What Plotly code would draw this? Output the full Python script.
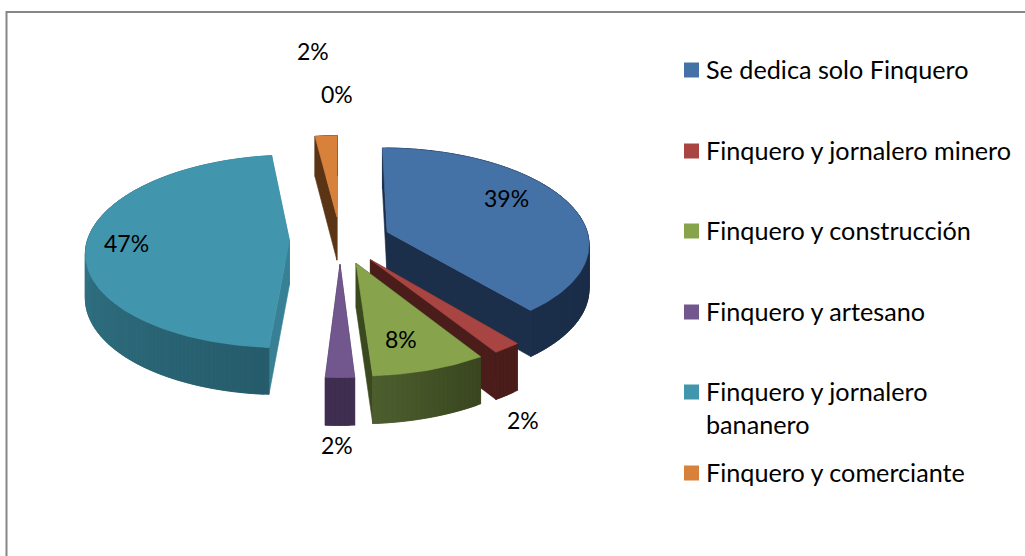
import math
import plotly.graph_objects as go

# --- data ---
categories = ["Se dedica solo Finquero", "Finquero y jornalero minero", "Finquero y construcción",
              "Finquero y artesano", "Finquero y jornalero<br>bananero", "Finquero y comerciante", ""]
values = [39, 2, 8, 2, 47, 2, 0]
top_colors = ["#4471A6", "#A84542", "#87A44C", "#71578D", "#4195AD", "#D7813B", "#4471A6"]
radial_colors = ["#1B2E4A", "#4A1C1A", "#3A4A1E", "#3F2E50", "#378096", "#5A3414", "#1B2E4A"]
wall_start = ["#1B2E4A", "#4A1C1A", "#3A461F", "#3F2E50", "#265C6B", "#5A3414", "#1B2E4A"]
wall_end = ["#1B2E4A", "#4A1C1A", "#4C5E2E", "#3F2E50", "#3C8A9F", "#5A3414", "#1B2E4A"]
label_xy = [(506, 198), (523, 420), (401, 339), (337, 445), (126, 243), (313, 51), (337, 94)]
legend_y = [70, 151, 231, 312, 392, 473]

# --- pie geometry (values -> projected 3D pie) ---
CX, CY, RX, RY, K, EXPLODE = 340, 240, 202, 95, 0.11, 0.25
FONT = "Lato"
total = sum(values)


def project(px, py, down=False):
    d = 1 + K * py
    x = CX + RX * px / d
    y = CY - RY * py / d
    if down:
        y += 44 - 3 * py
    return x, y


def rgb(c):
    return [int(c[i:i + 2], 16) for i in (1, 3, 5)]


def mix(a, b, t):
    ca, cb = rgb(a), rgb(b)
    return "rgb(%d,%d,%d)" % tuple(round(p + (q - p) * t) for p, q in zip(ca, cb))


def poly(fig, pts, color):
    xs = [p[0] for p in pts] + [pts[0][0]]
    ys = [p[1] for p in pts] + [pts[0][1]]
    fig.add_trace(go.Scatter(x=xs, y=ys, mode="lines", fill="toself", fillcolor=color,
                             line=dict(color=color, width=0.6), hoverinfo="skip", showlegend=False))


slices = []
cum = 0
for i, v in enumerate(values):
    a0 = cum / total * 2 * math.pi
    cum += v
    a1 = cum / total * 2 * math.pi
    mid = (a0 + a1) / 2
    slices.append((i, a0, a1, EXPLODE * math.sin(mid), EXPLODE * math.cos(mid)))

fig = go.Figure()
for i, a0, a1, ox, oy in sorted(slices, key=lambda s: -s[4]):
    if values[i] == 0:
        continue
    n = max(3, int(values[i] * 3))
    rim = [(ox + math.sin(a0 + (a1 - a0) * j / n), oy + math.cos(a0 + (a1 - a0) * j / n)) for j in range(n + 1)]
    apex = (ox, oy)
    for p in (rim[0], rim[-1]):
        poly(fig, [project(*apex), project(*p), project(*p, True), project(*apex, True)], radial_colors[i])
    for j in range(n):
        # each wall piece overlaps the next one so no seams show through
        arc = rim[j:j + 3]
        pts = [project(*p) for p in arc] + [project(*p, True) for p in reversed(arc)]
        poly(fig, pts, mix(wall_start[i], wall_end[i], j / max(1, n - 1)))
    poly(fig, [project(*apex)] + [project(*p) for p in rim], top_colors[i])

# percentage labels
for v, (x, y) in zip(values, label_xy):
    fig.add_annotation(x=x, y=y, text=f"{v}%", showarrow=False, xanchor="center", yanchor="middle",
                       font=dict(family=FONT, size=23, color="#000000"))

# legend
fig.add_trace(go.Scatter(x=[691.5] * 6, y=legend_y, mode="markers", hoverinfo="skip", showlegend=False,
                         marker=dict(symbol="square", size=15, color=top_colors[:6], line=dict(width=0))))
for name, y in zip(categories[:6], legend_y):
    fig.add_annotation(x=703.5, y=y - 1 + (16 if "<br>" in name else 0), text=name, showarrow=False, xanchor="left",
                       yanchor="middle", align="left",
                       font=dict(family=FONT, size=25.2, color="#000000"))

fig.update_layout(
    width=1025, height=556, margin=dict(l=0, r=0, t=0, b=0),
    paper_bgcolor="#FFFFFF", plot_bgcolor="#FFFFFF",
    xaxis=dict(range=[0, 1025], visible=False, fixedrange=True),
    yaxis=dict(range=[556, 0], visible=False, fixedrange=True),
    shapes=[dict(type="path", path="M 6.5 556 L 6.5 12 L 1025 12", line=dict(color="#868686", width=2), layer="below")],
)
fig.write_html("out.html", config={"displayModeBar": False},
               post_script="document.body.style.margin='0';document.body.style.overflow='hidden';")
